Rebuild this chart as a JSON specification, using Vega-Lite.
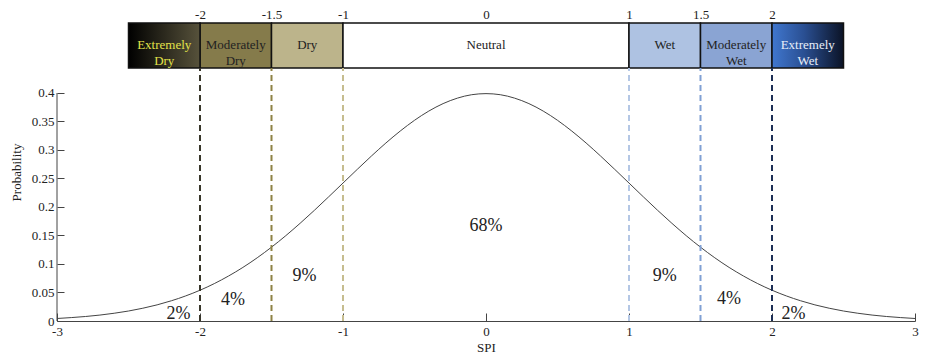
{
  "$schema": "https://vega.github.io/schema/vega-lite/v6.json",
  "width": 858,
  "height": 298,
  "autosize": {"type": "none"},
  "padding": {"left": 57, "top": 23, "right": 11, "bottom": 41},
  "background": "white",
  "config": {
    "view": {"stroke": null},
    "font": "Liberation Serif",
    "axis": {
      "labelFont": "Liberation Serif",
      "titleFont": "Liberation Serif",
      "labelFontSize": 13,
      "titleFontSize": 13,
      "titleFontWeight": "normal",
      "labelColor": "#222222",
      "titleColor": "#222222",
      "domainColor": "#444444",
      "tickColor": "#444444",
      "labelOverlap": false,
      "grid": false
    }
  },
  "datasets": {
    "bands": [
      {"zone": "Extremely Dry", "label": "Extremely\nDry", "x0": -2.5, "x1": -2},
      {"zone": "Moderately Dry", "label": "Moderately\nDry", "x0": -2, "x1": -1.5},
      {"zone": "Dry", "label": "Dry", "x0": -1.5, "x1": -1},
      {"zone": "Neutral", "label": "Neutral", "x0": -1, "x1": 1},
      {"zone": "Wet", "label": "Wet", "x0": 1, "x1": 1.5},
      {"zone": "Moderately Wet", "label": "Moderately\nWet", "x0": 1.5, "x1": 2},
      {"zone": "Extremely Wet", "label": "Extremely\nWet", "x0": 2, "x1": 2.5}
    ],
    "bounds": [
      {"x": -2, "b": "m2"},
      {"x": -1.5, "b": "m15"},
      {"x": -1, "b": "m1"},
      {"x": 1, "b": "p1"},
      {"x": 1.5, "b": "p15"},
      {"x": 2, "b": "p2"}
    ],
    "pct": [
      {"x": -2.15, "y": 0.013, "label": "2%"},
      {"x": -1.77, "y": 0.037, "label": "4%"},
      {"x": -1.27, "y": 0.079, "label": "9%"},
      {"x": 0, "y": 0.167, "label": "68%"},
      {"x": 1.25, "y": 0.079, "label": "9%"},
      {"x": 1.7, "y": 0.039, "label": "4%"},
      {"x": 2.15, "y": 0.013, "label": "2%"}
    ],
    "curve": [
      {"x": -3.0, "y": 0.0044}, {"x": -2.9, "y": 0.0060}, {"x": -2.8, "y": 0.0079}, {"x": -2.7, "y": 0.0104},
      {"x": -2.6, "y": 0.0136}, {"x": -2.5, "y": 0.0175}, {"x": -2.4, "y": 0.0224}, {"x": -2.3, "y": 0.0283},
      {"x": -2.2, "y": 0.0355}, {"x": -2.1, "y": 0.0440}, {"x": -2.0, "y": 0.0540}, {"x": -1.9, "y": 0.0656},
      {"x": -1.8, "y": 0.0790}, {"x": -1.7, "y": 0.0940}, {"x": -1.6, "y": 0.1109}, {"x": -1.5, "y": 0.1295},
      {"x": -1.4, "y": 0.1497}, {"x": -1.3, "y": 0.1714}, {"x": -1.2, "y": 0.1942}, {"x": -1.1, "y": 0.2179},
      {"x": -1.0, "y": 0.2420}, {"x": -0.9, "y": 0.2661}, {"x": -0.8, "y": 0.2897}, {"x": -0.7, "y": 0.3123},
      {"x": -0.6, "y": 0.3332}, {"x": -0.5, "y": 0.3521}, {"x": -0.4, "y": 0.3683}, {"x": -0.3, "y": 0.3814},
      {"x": -0.2, "y": 0.3910}, {"x": -0.1, "y": 0.3970}, {"x": 0.0, "y": 0.3989}, {"x": 0.1, "y": 0.3970},
      {"x": 0.2, "y": 0.3910}, {"x": 0.3, "y": 0.3814}, {"x": 0.4, "y": 0.3683}, {"x": 0.5, "y": 0.3521},
      {"x": 0.6, "y": 0.3332}, {"x": 0.7, "y": 0.3123}, {"x": 0.8, "y": 0.2897}, {"x": 0.9, "y": 0.2661},
      {"x": 1.0, "y": 0.2420}, {"x": 1.1, "y": 0.2179}, {"x": 1.2, "y": 0.1942}, {"x": 1.3, "y": 0.1714},
      {"x": 1.4, "y": 0.1497}, {"x": 1.5, "y": 0.1295}, {"x": 1.6, "y": 0.1109}, {"x": 1.7, "y": 0.0940},
      {"x": 1.8, "y": 0.0790}, {"x": 1.9, "y": 0.0656}, {"x": 2.0, "y": 0.0540}, {"x": 2.1, "y": 0.0440},
      {"x": 2.2, "y": 0.0355}, {"x": 2.3, "y": 0.0283}, {"x": 2.4, "y": 0.0224}, {"x": 2.5, "y": 0.0175},
      {"x": 2.6, "y": 0.0136}, {"x": 2.7, "y": 0.0104}, {"x": 2.8, "y": 0.0079}, {"x": 2.9, "y": 0.0060},
      {"x": 3.0, "y": 0.0044}
    ]
  },
  "layer": [
    {
      "data": {"name": "bands"},
      "encoding": {
        "x": {
          "field": "x0", "type": "quantitative",
          "scale": {"domain": [-3, 3], "nice": false, "zero": false},
          "axis": {
            "orient": "top", "values": [-2, -1.5, -1, 0, 1, 1.5, 2],
            "format": ".1~f",
            "domain": false, "ticks": false, "labelPadding": 2, "title": null,
            "labelFlush": false, "labelExpr": "replace(datum.label, '−', '-')"
          }
        },
        "y": {
          "datum": 0.4439, "type": "quantitative",
          "scale": {"domain": [0, 0.5228], "nice": false, "zero": false},
          "axis": null
        }
      },
      "layer": [
        {
          "transform": [{"filter": "datum.zone != 'Extremely Dry' && datum.zone != 'Extremely Wet'"}],
          "mark": {"type": "rect", "stroke": "#111111", "strokeWidth": 1.5},
          "encoding": {
            "x2": {"field": "x1"},
            "y2": {"datum": 0.5228},
            "fill": {
              "field": "zone", "type": "nominal", "legend": null,
              "scale": {
                "domain": ["Moderately Dry", "Dry", "Neutral", "Wet", "Moderately Wet"],
                "range": ["#857b4b", "#bcb48b", "#ffffff", "#aec2e2", "#8aa4d3"]
              }
            }
          }
        },
        {
          "transform": [{"filter": "datum.zone == 'Extremely Dry'"}],
          "mark": {
            "type": "rect", "stroke": "#111111", "strokeWidth": 1.5,
            "fill": {"gradient": "linear", "x1": 0, "y1": 0, "x2": 1, "y2": 0,
              "stops": [{"offset": 0, "color": "#000000"}, {"offset": 1, "color": "#57523b"}]}
          },
          "encoding": {
            "x2": {"field": "x1"},
            "y2": {"datum": 0.5228}
          }
        },
        {
          "transform": [{"filter": "datum.zone == 'Extremely Wet'"}],
          "mark": {
            "type": "rect", "stroke": "#111111", "strokeWidth": 1.5,
            "fill": {"gradient": "linear", "x1": 0, "y1": 0, "x2": 1, "y2": 0,
              "stops": [{"offset": 0, "color": "#4077cf"}, {"offset": 0.45, "color": "#2a4f92"}, {"offset": 1, "color": "#0b1326"}]}
          },
          "encoding": {
            "x2": {"field": "x1"},
            "y2": {"datum": 0.5228}
          }
        },
        {
          "transform": [{"calculate": "(datum.x0 + datum.x1) / 2", "as": "mid"}],
          "mark": {"type": "text", "align": "center", "baseline": "middle", "lineBreak": "\n", "lineHeight": 16, "fontSize": 13, "font": "Liberation Serif"},
          "encoding": {
            "x": {"field": "mid", "type": "quantitative"},
            "y": {"datum": 0.4834, "type": "quantitative", "axis": null},
            "text": {"field": "label"},
            "color": {
              "field": "zone", "type": "nominal", "legend": null,
              "scale": {
                "domain": ["Extremely Dry", "Moderately Dry", "Dry", "Neutral", "Wet", "Moderately Wet", "Extremely Wet"],
                "range": ["#e2e24a", "#222222", "#222222", "#222222", "#222222", "#222222", "#e8eef8"]
              }
            }
          }
        }
      ]
    },
    {
      "encoding": {
        "x": {
          "field": "x", "type": "quantitative",
          "scale": {"domain": [-3, 3], "nice": false, "zero": false},
          "axis": {
            "orient": "bottom", "values": [-3, -2, -1, 0, 1, 2, 3],
            "format": "~g",
            "tickSize": -8, "labelPadding": 12, "labelFlush": false,
            "title": "SPI", "titlePadding": 3,
            "labelExpr": "replace(datum.label, '−', '-')"
          }
        }
      },
      "layer": [
        {
          "data": {"name": "curve"},
          "mark": {"type": "line", "color": "#444444", "strokeWidth": 1, "interpolate": "monotone"},
          "encoding": {
            "y": {
              "field": "y", "type": "quantitative",
              "scale": {"domain": [0, 0.5228], "nice": false, "zero": false},
              "axis": {
                "values": [0, 0.05, 0.1, 0.15, 0.2, 0.25, 0.3, 0.35, 0.4],
                "format": ".2~f", "domain": false, "tickSize": -7, "labelPadding": 10,
                "title": "Probability", "titlePadding": 8
              }
            }
          }
        },
        {
          "data": {"name": "bounds"},
          "mark": {"type": "rule", "strokeDash": [6, 4], "strokeWidth": 2},
          "encoding": {
            "y": {
              "datum": 0, "type": "quantitative",
              "axis": {
                "values": [0, 0.05, 0.1, 0.15, 0.2, 0.25, 0.3, 0.35, 0.4],
                "format": ".2~f", "domain": false, "tickSize": -7, "labelPadding": 10,
                "title": "Probability", "titlePadding": 8
              }
            },
            "y2": {"datum": 0.4439},
            "stroke": {
              "field": "b", "type": "nominal", "legend": null,
              "scale": {
                "domain": ["m2", "m15", "m1", "p1", "p15", "p2"],
                "range": ["#38362a", "#8e8245", "#c6bd8f", "#b4c7e5", "#80a0d4", "#1c2e55"]
              }
            }
          }
        },
        {
          "data": {"values": [{"x": -3}]},
          "mark": {"type": "rule", "color": "#444444", "strokeWidth": 1},
          "encoding": {
            "y": {
              "datum": 0, "type": "quantitative",
              "axis": {
                "values": [0, 0.05, 0.1, 0.15, 0.2, 0.25, 0.3, 0.35, 0.4],
                "format": ".2~f", "domain": false, "tickSize": -7, "labelPadding": 10,
                "title": "Probability", "titlePadding": 8
              }
            },
            "y2": {"datum": 0.4}
          }
        },
        {
          "data": {"name": "pct"},
          "mark": {"type": "text", "fontSize": 18, "font": "Liberation Serif", "color": "#222222", "align": "center", "baseline": "middle"},
          "encoding": {
            "y": {
              "field": "y", "type": "quantitative",
              "axis": {
                "values": [0, 0.05, 0.1, 0.15, 0.2, 0.25, 0.3, 0.35, 0.4],
                "format": ".2~f", "domain": false, "tickSize": -7, "labelPadding": 10,
                "title": "Probability", "titlePadding": 8
              }
            },
            "text": {"field": "label"}
          }
        }
      ]
    }
  ],
  "resolve": {
    "scale": {"x": "independent", "y": "independent"},
    "axis": {"x": "independent", "y": "independent"}
  }
}
